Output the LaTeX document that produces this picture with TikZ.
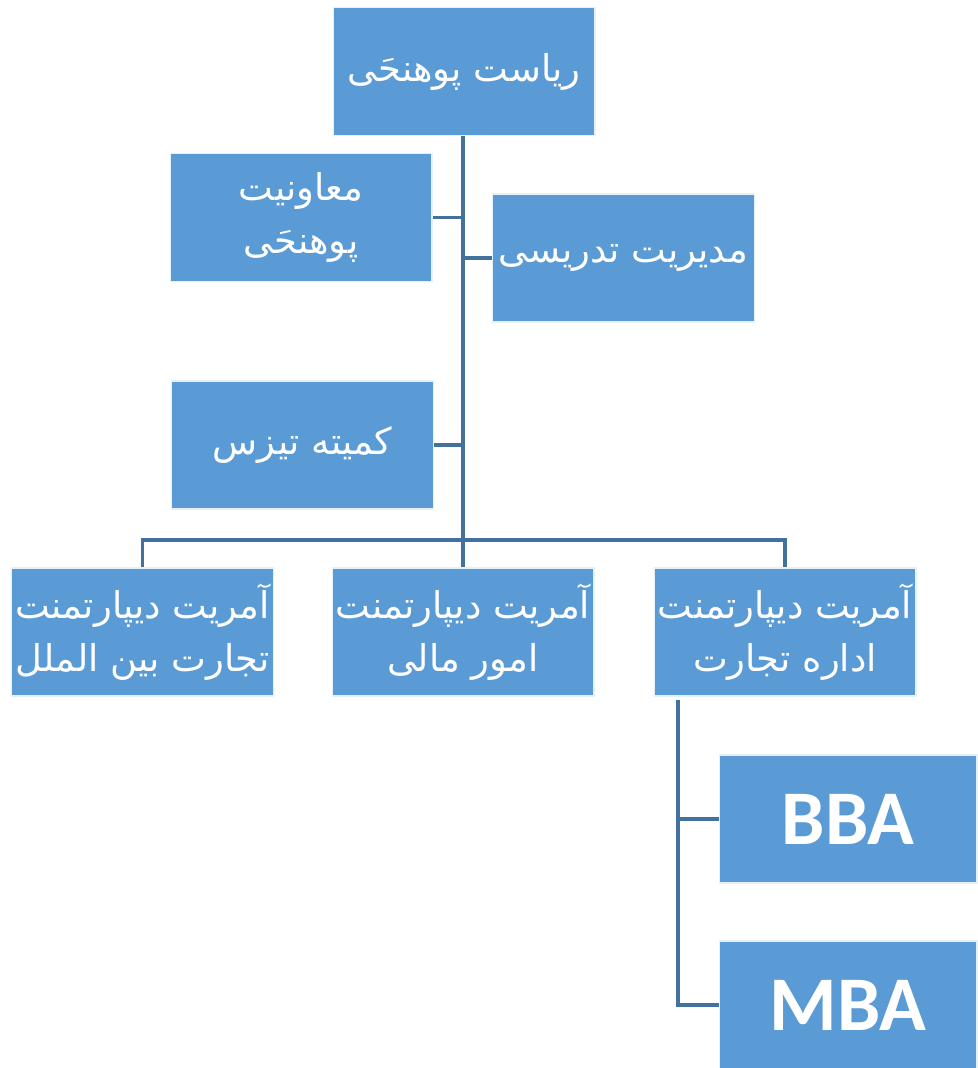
\documentclass[tikz,border=0pt]{standalone}
\usepackage{fontspec}
\usepackage{tikz}
\TeXXeTstate=1
\newfontfamily\arabicfont[Script=Arabic]{DejaVu Sans}
\newfontfamily\latinbold{Carlito}[BoldFont={* Bold}]
\definecolor{boxblue}{RGB}{91,155,213}
\definecolor{lineblue}{RGB}{65,113,156}
\newcommand{\fa}[1]{\beginR #1\endR}

\begin{document}
\begin{tikzpicture}[x=0.02cm, y=-0.02cm,
    box/.style={rectangle, fill=boxblue, draw=white!85!boxblue, line width=0.6pt,
      minimum width=5.24cm, minimum height=2.56cm, inner sep=0pt,
      text=white, align=center,
      font=\arabicfont\fontsize{21}{30}\selectfont},
    degree/.style={box, minimum width=5.16cm,
      font=\latinbold\bfseries\fontsize{44}{50}\selectfont},
    conn/.style={draw=lineblue, line width=2pt}]
          \useasboundingbox (0, 0) rectangle (977, 1068);

          % Boxes
          \node[box] (head) at (464, 71.5) {\fa{ریاست پوهنحَی}};
          \node[box] (vice) at (301, 217.5) {\fa{معاونیت}\\\fa{پوهنحَی}};
          \node[box] (teach) at (623.5, 258) {\fa{مدیریت تدریسی}};
          \node[box] (thesis) at (302.5, 445) {\fa{کمیته تیزس}};
          \node[box] (intl) at (142.5, 632) {\fa{آمریت دیپارتمنت}\\\fa{تجارت بین الملل}};
          \node[box] (fin) at (463, 632) {\fa{آمریت دیپارتمنت}\\\fa{امور مالی}};
          \node[box] (admin) at (785, 632) {\fa{آمریت دیپارتمنت}\\\fa{اداره تجارت}};
          \node[degree] (bba) at (848, 819) {BBA};
          \node[degree] (mba) at (848, 1005) {MBA};

          % Connectors
          \coordinate (bus) at (463, 540);
          \coordinate (spine) at (678, 700);
          \draw[conn] (head.south -| bus) -- (bus);
          \draw[conn] (vice.east) -- (vice.east -| bus);
          \draw[conn] (teach.west) -- (teach.west -| bus);
          \draw[conn] (thesis.east) -- (thesis.east -| bus);
          \draw[conn] (intl.north) |- (bus) -| (admin.north);
          \draw[conn] (fin.north) -- (bus);
          \draw[conn] (spine) |- (bba.west);
          \draw[conn] (spine) |- (mba.west);
        \end{tikzpicture}
\end{document}
